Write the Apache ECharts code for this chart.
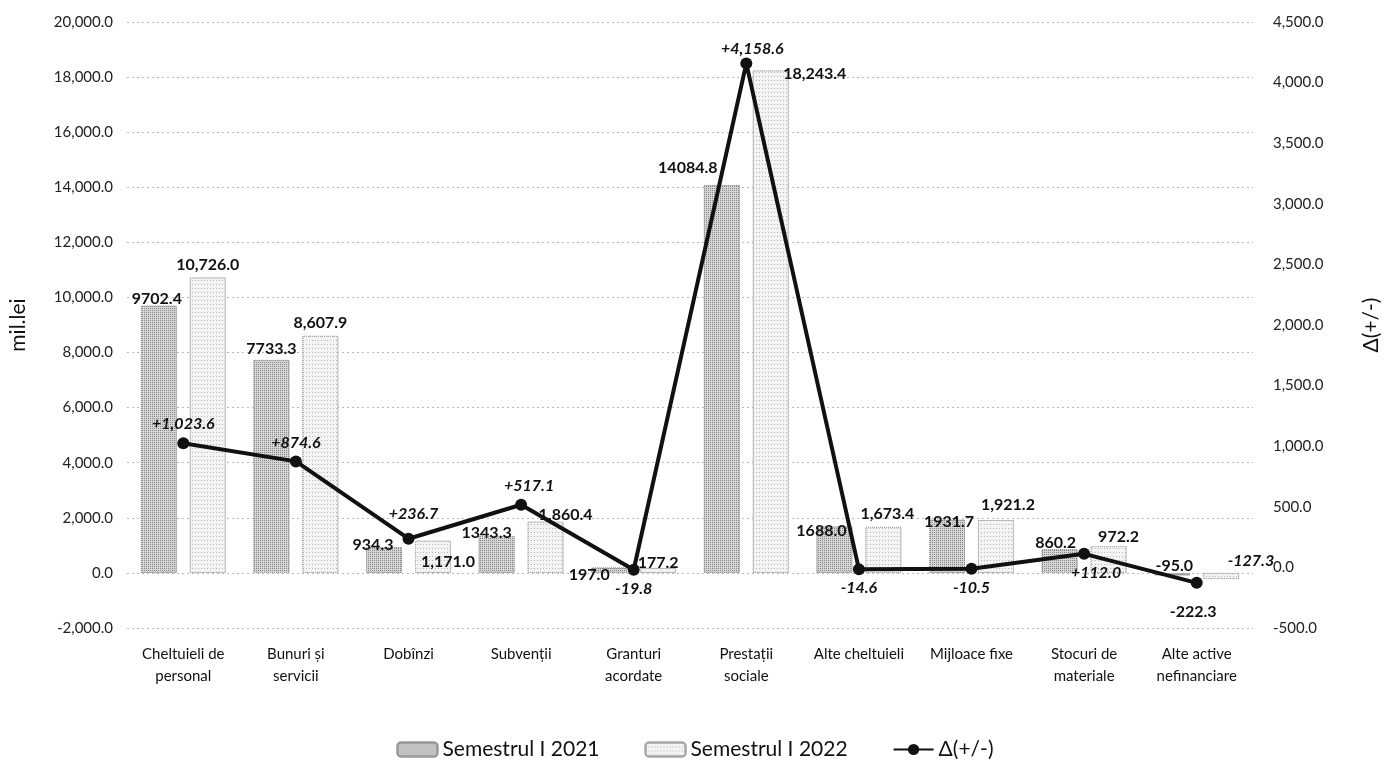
<!DOCTYPE html>
<html>
<head>
<meta charset="utf-8">
<script src="https://cdn.jsdelivr.net/npm/echarts@6/dist/echarts.min.js"></script>
<style>
html,body{margin:0;padding:0;background:#fff;}
#chart{width:1390px;height:775px;}
</style>
</head>
<body>
<div id="chart"></div>
<script>
// cheltuieli pe categorii, semestrul I
var categories = ['Cheltuieli de\npersonal','Bunuri și\nservicii','Dobînzi','Subvenții','Granturi\nacordate',
	'Prestații\nsociale','Alte cheltuieli','Mijloace fixe','Stocuri de\nmateriale','Alte active\nnefinanciare'];
var sem2021 = [9702.4, 7733.3, 934.3, 1343.3, 197.0, 14084.8, 1688.0, 1931.7, 860.2, -95.0];
var sem2022 = [10726.0, 8607.9, 1171.0, 1860.4, 177.2, 18243.4, 1673.4, 1921.2, 972.2, -222.3];
var delta = [1023.6, 874.6, 236.7, 517.1, -19.8, 4158.6, -14.6, -10.5, 112.0, -127.3];

var leftTicks = {min:-2000, max:20000, step:2000};
var rightTicks = {min:-500, max:4500, step:500};

// pozitii etichete (doar stil)
var off2021 = [[-2,6],[0,2],[-11,11],[-10,10],[-20,20],[-34,-4],[-13,17],[2,15],[-4,7],[2,6]];
var off2022 = [[0,0],[0,0],[15,34],[20,6],[0,8],[44,16],[4,0],[12,-2],[10,4],[-28,20]];
var posDelta = ['top','top','top','top','bottom','top','bottom','bottom','bottom','right'];
var offDelta = [[0,0],[0,0],[5,-6],[8,0],[0,0],[6,4],[0,0],[0,0],[12,0],[20,-22]];

var FONT = 'Lato';

function fmt(v){
	return v.toLocaleString('en-US',{minimumFractionDigits:1,maximumFractionDigits:1});
}

function barData(arr,offs,comma){
	return arr.map(function(v,i){
		return {
			value:v,
			label:{
				position: v<0 && comma ? 'bottom' : 'top',
				offset:offs[i],
				formatter: comma ? fmt(v) : v.toFixed(1)
			}
		};
	});
}

function lineData(){
	return delta.map(function(v,i){
		return {
			value:v,
			label:{
				position:posDelta[i],
				offset:offDelta[i],
				formatter:(v>0?'+':'')+fmt(v)
			}
		};
	});
}

var labelStyle = {show:true,fontFamily:FONT,fontSize:16,fontWeight:'bold',color:'#111'};

var myChart = echarts.init(document.getElementById('chart'));
myChart.setOption({
	animation:false,
	textStyle:{fontFamily:FONT},
	grid:{left:123,right:123,top:22,bottom:147},
	legend:{
		bottom:10,
		left:'center',
		itemWidth:40,
		itemHeight:14,
		itemGap:45,
		textStyle:{fontFamily:FONT,fontSize:21,color:'#111'},
		data:['Semestrul I 2021','Semestrul I 2022','Δ(+/-)']
	},
	xAxis:{
		type:'category',
		data:categories,
		axisLine:{show:false},
		axisTick:{show:false},
		axisLabel:{fontFamily:FONT,fontSize:15,color:'#111',lineHeight:22,margin:15,interval:0}
	},
	yAxis:[
		{
			type:'value',
			min:leftTicks.min,max:leftTicks.max,interval:leftTicks.step,
			name:'mil.lei',
			nameLocation:'middle',
			nameRotate:90,
			nameGap:98,
			nameTextStyle:{fontFamily:FONT,fontSize:21,color:'#111'},
			axisLabel:{fontFamily:FONT,fontSize:15,color:'#222',margin:14,formatter:fmt},
			axisLine:{show:false},
			axisTick:{show:false},
			splitLine:{lineStyle:{color:'#b8b8b8',type:[2,3],width:1}}
		},
		{
			type:'value',
			min:rightTicks.min,max:rightTicks.max,interval:rightTicks.step,
			name:'Δ(+/-)',
			nameLocation:'middle',
			nameRotate:90,
			nameGap:108,
			nameTextStyle:{fontFamily:FONT,fontSize:21,color:'#111'},
			axisLabel:{fontFamily:FONT,fontSize:15,color:'#222',margin:20,formatter:fmt},
			axisLine:{show:false},
			axisTick:{show:false},
			splitLine:{show:false}
		}
	],
	series:[
		{
			name:'Semestrul I 2021',
			type:'bar',
			barWidth:36,
			barGap:'36%',
			itemStyle:{
				color:'#d6d6d6',
				borderColor:'#9a9a9a',
				borderWidth:1,
				borderType:'dotted',
				decal:{symbol:'rect',symbolSize:1,dashArrayX:[1,1],dashArrayY:[1,1],color:'rgba(70,70,70,0.55)'}
			},
			label:labelStyle,
			data:barData(sem2021,off2021,false)
		},
		{
			name:'Semestrul I 2022',
			type:'bar',
			barWidth:36,
			itemStyle:{
				color:'#f3f3f3',
				borderColor:'#a8a8a8',
				borderWidth:1,
				borderType:'dotted',
				decal:{symbol:'rect',symbolSize:1,dashArrayX:[1,2],dashArrayY:[1,3],color:'rgba(90,90,90,0.4)'}
			},
			label:labelStyle,
			data:barData(sem2022,off2022,true)
		},
		{
			name:'Δ(+/-)',
			type:'line',
			yAxisIndex:1,
			symbol:'circle',
			symbolSize:12,
			z:5,
			lineStyle:{color:'#111',width:4},
			itemStyle:{color:'#111'},
			label:{show:true,fontFamily:FONT,fontSize:16,fontWeight:'bold',fontStyle:'italic',color:'#111'},
			data:lineData()
		}
	]
});
</script>
</body>
</html>
